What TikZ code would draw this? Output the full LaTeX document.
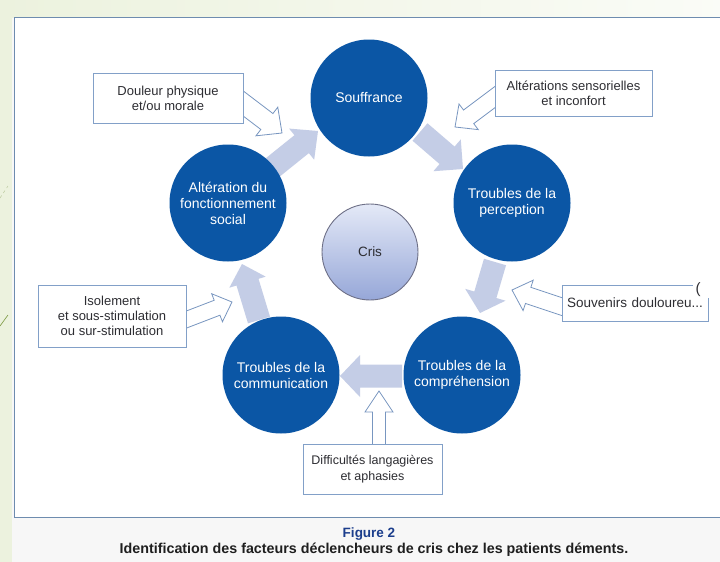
\documentclass[tikz,border=0pt]{standalone}
\usepackage{fontspec}
\setmainfont{Liberation Sans}
\usetikzlibrary{calc}
\definecolor{cblue}{RGB}{11,86,165}
\definecolor{carr}{RGB}{196,205,230}
\definecolor{cout}{RGB}{120,150,192}
\definecolor{cboxb}{RGB}{130,160,200}
\definecolor{cframe}{RGB}{110,140,175}
\definecolor{cgreen}{RGB}{236,242,222}
\definecolor{ctext}{RGB}{45,45,50}
\definecolor{cfig}{RGB}{28,62,140}
\definecolor{ccrisb}{RGB}{110,112,135}
\definecolor{ccristop}{RGB}{228,233,247}
\definecolor{ccrisbot}{RGB}{150,167,216}
\definecolor{colive}{RGB}{120,150,60}
\newcommand\blockarr[6]{%
  \coordinate (ba-b) at ($(#3)!#6!(#2)$);
  \path[#1] ($(#2)!#4!90:(#3)$) -- ($(ba-b)!#4!90:(#3)$) -- ($(ba-b)!#5!90:(#3)$) -- (#3)
    -- ($(ba-b)!#5!-90:(#3)$) -- ($(ba-b)!#4!-90:(#3)$) -- ($(#2)!#4!-90:(#3)$) -- cycle;}
\begin{document}
\begin{tikzpicture}[x=1pt,y=-1pt,
  barrow/.style={fill=carr},
  oarrow/.style={draw=cout, fill=white, line width=0.8pt, line join=miter},
  bigc/.style={circle, fill=cblue, minimum size=117pt, inner sep=0pt, text=white,
    align=center, font=\fontsize{14}{16}\selectfont},
  tbox/.style={draw=cboxb, fill=white, line width=0.9pt, text=ctext, align=center,
    inner sep=0pt, font=\fontsize{13}{15}\selectfont}]
\useasboundingbox (0,0) rectangle (720,562);
\clip (0,0) rectangle (720,562);
% background
\fill[black!3] (0,0) rectangle (720,562);
\shade[left color=cgreen, right color=cgreen!25!white] (0,0) rectangle (720,17);
\fill[cgreen] (0,0) rectangle (12,562);
\draw[colive!50, dashed, line width=0.5pt] (0,198) -- (8,186);
\draw[colive, line width=0.6pt] (0,326) -- (8,315);
\draw[cframe, fill=white, line width=0.9pt] (14,17) rectangle (740,517);
% coordinates for block arrows
\coordinate (a1t) at (420,132); \coordinate (a1h) at (463,169);
\coordinate (a2t) at (495,262); \coordinate (a2h) at (480,313);
\coordinate (a3t) at (402,376); \coordinate (a3h) at (340,376);
\coordinate (a4t) at (259,320); \coordinate (a4h) at (242,264);
\coordinate (a5t) at (272,168); \coordinate (a5h) at (318,131);
\blockarr{barrow}{a1t}{a1h}{11.5pt}{21pt}{21pt}
\blockarr{barrow}{a2t}{a2h}{11.5pt}{21pt}{19pt}
\blockarr{barrow}{a3t}{a3h}{11.5pt}{21pt}{20pt}
\blockarr{barrow}{a4t}{a4h}{11.5pt}{19pt}{19pt}
\blockarr{barrow}{a5t}{a5h}{11.5pt}{20pt}{21pt}
% outline arrows
\coordinate (o1t) at (236,98);  \coordinate (o1h) at (282,133);
\coordinate (o2t) at (503,91);  \coordinate (o2h) at (455,127);
\coordinate (o3t) at (569,309); \coordinate (o3h) at (512,290);
\coordinate (o4t) at (180,322); \coordinate (o4h) at (232,302);
\coordinate (o5t) at (379,452); \coordinate (o5h) at (379,391);
\blockarr{oarrow}{o1t}{o1h}{10pt}{18pt}{19pt}
\blockarr{oarrow}{o2t}{o2h}{8.5pt}{16pt}{17pt}
\blockarr{oarrow}{o3t}{o3h}{8.5pt}{16pt}{17pt}
\blockarr{oarrow}{o4t}{o4h}{8pt}{15pt}{16pt}
\blockarr{oarrow}{o5t}{o5h}{6.5pt}{14pt}{21pt}
% boxes
\node[tbox, minimum width=150pt, minimum height=50pt] (b1) at (168,98) {Douleur physique\\et/ou morale};
\node[tbox, minimum width=157pt, minimum height=46pt] (b2) at (573.5,93) {Altérations sensorielles\\et inconfort};
\node[tbox, minimum width=146pt, minimum height=36pt, text width=136pt, align=left,
  font=\fontsize{13.5}{15}\selectfont] (b3) at (635,303) {Souvenirs douloureu...};
\fill[white] (693,272) rectangle (720,298);
\node[text=ctext, font=\fontsize{15}{17}\selectfont, inner sep=0pt] (paren) at (698,290) {(};
\node[tbox, minimum width=148pt, minimum height=62pt] (b4) at (112,316) {Isolement\\et sous-stimulation\\ou sur-stimulation};
\node[tbox, minimum width=139pt, minimum height=50pt, font=\fontsize{12.5}{15.5}\selectfont] (b5) at (372.5,469) {Difficultés langagières\\et aphasies};
% circles
\node[bigc] (souf) at (369,98) {Souffrance};
\node[bigc] (perc) at (512,203) {Troubles de la\\perception};
\node[bigc] (compr) at (462,375) {Troubles de la\\compréhension};
\node[bigc] (comm) at (281,375) {Troubles de la\\communication};
\node[bigc] (alt) at (228,203) {Altération du\\fonctionnement\\social};
\node[circle, draw=ccrisb, line width=0.9pt, top color=ccristop, bottom color=ccrisbot,
  minimum size=96pt, inner sep=0pt, text=ctext, font=\fontsize{13.5}{15}\selectfont] (cris) at (370,252) {Cris};
% caption
\node[text=cfig, font=\bfseries\fontsize{13.5}{15}\selectfont] (fig) at (369,534) {Figure 2};
\node[text=black!88, font=\bfseries\fontsize{14.3}{16}\selectfont] (cap) at (374,550) {Identification des facteurs déclencheurs de cris chez les patients déments.};
\end{tikzpicture}
\end{document}
